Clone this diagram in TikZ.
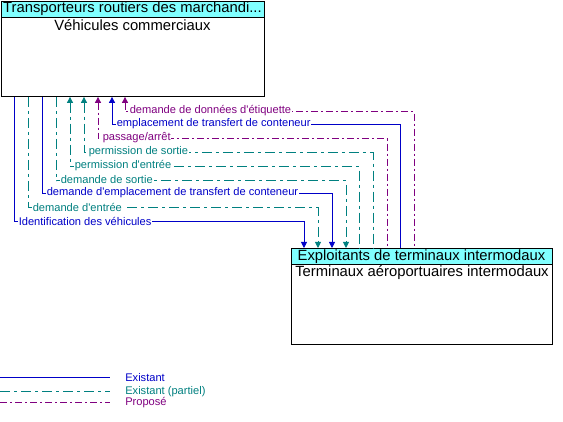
\documentclass[tikz,border=0pt]{standalone}
\usepackage{fontspec}
\setmainfont{Liberation Sans}
\usetikzlibrary{arrows.meta}
\definecolor{cblue}{RGB}{0,0,200}
\definecolor{cteal}{RGB}{0,128,128}
\definecolor{cpurp}{RGB}{128,0,128}
\definecolor{hdrcol}{RGB}{128,255,255}
\tikzset{
  exist/.style={cblue, line width=0.9pt},
  part/.style={cteal, line width=0.9pt, dash pattern=on 10pt off 4pt on 3pt off 4pt},
  prop/.style={cpurp, line width=0.9pt, dash pattern=on 7pt off 3pt on 2pt off 3pt},
  tip/.style={arrows={-{Triangle[length=6pt,width=6pt]}}},
  rtip/.style={arrows={{Triangle[length=6pt,width=6pt]}-}},
  box/.style={draw=black, line width=0.9pt, inner sep=0pt, anchor=north west},
  hdr/.style={draw=black, fill=hdrcol, line width=0.9pt, inner sep=0pt, anchor=north west},
  lbl/.style={font=\fontsize{11.1}{12}\selectfont, inner sep=0.6pt, fill=white, anchor=west},
  big/.style={font=\fontsize{14.8}{16}\selectfont, inner sep=0pt},
}
\begin{document}
\begin{tikzpicture}[x=1pt, y=-1pt]
\useasboundingbox (0,0) rectangle (563,422);
% boxes
\node[box, minimum width=263pt, minimum height=95pt] (veh) at (1,1) {};
\node[hdr, minimum width=263pt, minimum height=16pt] (vehh) at (veh.north west) {};
\node[big, anchor=west] (vehht) at (3,9) {Transporteurs routiers des marchandi...};
\node[big] (vehb) at (132.5,25) {Véhicules commerciaux};
\node[box, minimum width=261pt, minimum height=96pt] (ter) at (291,248) {};
\node[hdr, minimum width=261pt, minimum height=16pt] (terh) at (ter.north west) {};
\node[big] (terht) at (421.5,256.5) {Exploitants de terminaux intermodaux};
\node[big] (terb) at (422,273) {Terminaux aéroportuaires intermodaux};
% flows
\foreach \y/\xl/\xr/\st/\ar/\col/\txt in {
  111/125/414/prop/rtip/cpurp/{demande de données d\textquotesingle étiquette},
  124/112/400/exist/rtip/cblue/{emplacement de transfert de conteneur},
  138/98/387/prop/rtip/cpurp/{passage/arrêt},
  152/84/373/part/rtip/cteal/{permission de sortie},
  166/70/359/part/rtip/cteal/{permission d\textquotesingle entrée},
  180/56/346/part/tip/cteal/{demande de sortie},
  193/42/332/exist/tip/cblue/{demande d\textquotesingle emplacement de transfert de conteneur},
  207/28/318/part/tip/cteal/{demande d\textquotesingle entrée},
  221/14/304/exist/tip/cblue/{Identification des véhicules}} {
  \pgfmathsetmacro{\dl}{\xl-1}
  \pgfmathsetmacro{\dr}{\xr-291}
  \pgfmathsetmacro{\dy}{\y-96}
  \draw[\st,\ar] ([xshift=\dl pt]veh.south west) -- ++(0,\dy) -| ([xshift=\dr pt]ter.north west);
  \node[lbl, text=\col] (l\y) at (\xl+4,\y) {\txt};
}
% legend
\coordinate (la1) at (0,377); \coordinate (lb1) at (110,377);
\coordinate (la2) at (0,391); \coordinate (lb2) at (110,391);
\coordinate (la3) at (0,402); \coordinate (lb3) at (110,402);
\draw[exist] (la1) -- (lb1);
\draw[part] (la2) -- (lb2);
\draw[prop] (la3) -- (lb3);
\node[lbl, text=cblue] (leg1) at (124.5,377.5) {Existant};
\node[lbl, text=cteal] (leg2) at (124.5,391.5) {Existant (partiel)};
\node[lbl, text=cpurp] (leg3) at (124.5,403) {Proposé};
\end{tikzpicture}
\end{document}
